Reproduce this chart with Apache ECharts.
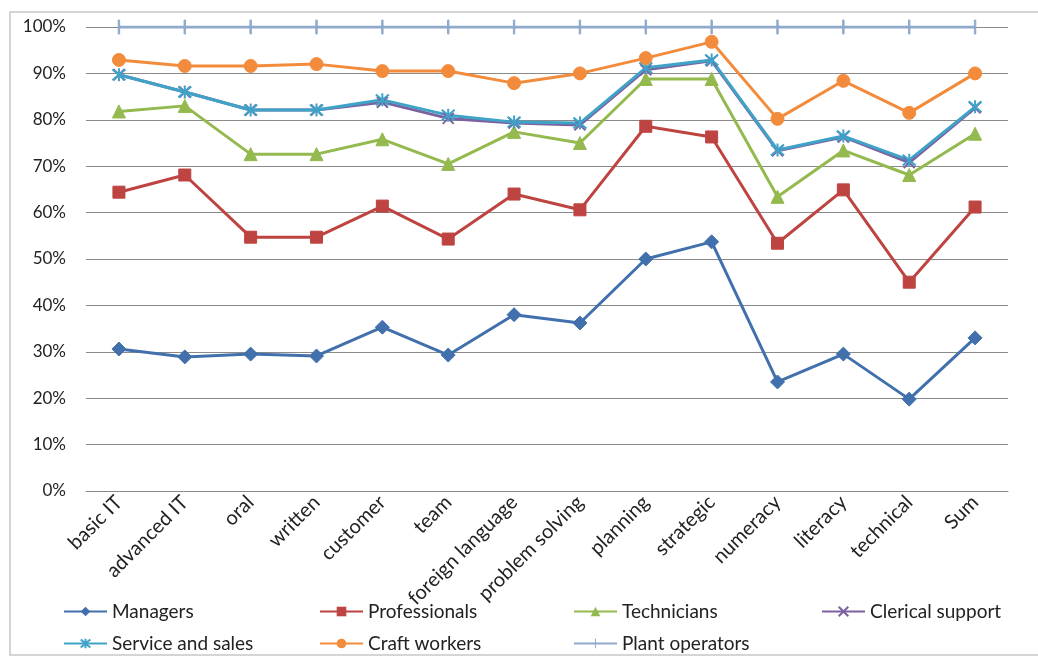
<!DOCTYPE html>
<html>
<head>
<meta charset="utf-8">
<script src="https://cdn.jsdelivr.net/npm/echarts@6/dist/echarts.min.js"></script>
<style>
  html, body { margin: 0; padding: 0; background: #fff; }
  #chart { width: 1038px; height: 662px; }
</style>
</head>
<body>
<div id="chart"></div>
<script>
const categories = ['basic IT', 'advanced IT', 'oral', 'written', 'customer', 'team', 'foreign language',
  'problem solving', 'planning', 'strategic', 'numeracy', 'literacy', 'technical', 'Sum']

const managers = [30.6, 28.9, 29.5, 29.1, 35.3, 29.3, 38.0, 36.2, 50.0, 53.7, 23.5, 29.5, 19.8, 33.0]
const professionals = [64.4, 68.1, 54.7, 54.7, 61.4, 54.3, 64.0, 60.6, 78.6, 76.3, 53.4, 64.9, 45.0, 61.2]
const technicians = [81.8, 83.0, 72.6, 72.6, 75.8, 70.5, 77.4, 75.0, 88.8, 88.8, 63.4, 73.4, 68.1, 77.0]
const clericalSupport = [89.7, 86.0, 82.1, 82.1, 83.8, 80.3, 79.3, 78.9, 90.8, 92.7, 73.3, 76.3, 70.8, 82.6]
const serviceAndSales = [89.7, 86.0, 82.1, 82.1, 84.3, 81.0, 79.5, 79.3, 91.2, 92.9, 73.5, 76.5, 71.3, 82.8]
const craftWorkers = [92.9, 91.6, 91.6, 92.0, 90.5, 90.5, 87.9, 90.0, 93.3, 96.8, 80.2, 88.4, 81.5, 90.0]
const plantOperators = [100, 100, 100, 100, 100, 100, 100, 100, 100, 100, 100, 100, 100, 100]

const yTicks = [0, 10, 20, 30, 40, 50, 60, 70, 80, 90, 100]

const fontFamily = 'Lato, "Open Sans", sans-serif'

// marker shapes (stroked paths)
const asterisk = 'path://M0,0L10,10M10,0L0,10M5,-1L5,11'
const cross = 'path://M0,0L10,10M10,0L0,10'
// thin vertical bar inside a square box (moveTo corners keep the box square)
const vbar = 'path://M0,0M14,14M6.3,0L7.7,0L7.7,14L6.3,14Z'

function lineSeries(name, data, color, symbol, symbolSize, strokeSymbol) {
  return {
    name,
    type: 'line',
    data,
    symbol,
    symbolSize,
    lineStyle: { color, width: 3 },
    itemStyle: strokeSymbol
      ? { color: 'transparent', borderColor: color, borderWidth: 2 }
      : { color, borderColor: color },
    color
  }
}

const seriesList = [
  lineSeries('Managers', managers, '#4170AC', 'diamond', 14),
  lineSeries('Professionals', professionals, '#BE4441', 'rect', 12),
  lineSeries('Technicians', technicians, '#94B94E', 'triangle', 13),
  lineSeries('Clerical support', clericalSupport, '#7D60A0', cross, 11, true),
  lineSeries('Service and sales', serviceAndSales, '#3FA3C8', asterisk, 13, true),
  lineSeries('Craft workers', craftWorkers, '#F28C3C', 'circle', 13),
  lineSeries('Plant operators', plantOperators, '#8FAACB', vbar, 14)
]

// legend placement: [name, left, top]
const legendPos = [
  ['Managers', 58, 597],
  ['Professionals', 314, 597],
  ['Technicians', 568, 597],
  ['Clerical support', 816, 597],
  ['Service and sales', 58, 629],
  ['Craft workers', 314, 629],
  ['Plant operators', 568, 629]
]

const chartInstance = echarts.init(document.getElementById('chart'))
chartInstance.setOption({
  animation: false,
  textStyle: { fontFamily },
  graphic: [{
    type: 'rect',
    shape: { x: 10, y: 12, width: 1040, height: 643 },
    style: { fill: 'none', stroke: '#c8c8c8', lineWidth: 1.5 },
    silent: true,
    z: -1
  }],
  grid: { left: 86, right: 30, top: 27, bottom: 171 },
  legend: legendPos.map(([name, left, top]) => ({
    data: [name],
    left,
    top,
    itemWidth: 43,
    itemHeight: 12,
    itemGap: 2,
    selectedMode: false,
    textStyle: { fontSize: 19, color: '#222', fontFamily }
  })),
  xAxis: {
    type: 'category',
    data: categories,
    boundaryGap: true,
    axisTick: { show: false },
    axisLine: { lineStyle: { color: '#888', width: 1 } },
    axisLabel: { rotate: 45, fontSize: 20, color: '#222', margin: 8, interval: 0 }
  },
  yAxis: {
    type: 'value',
    min: 0,
    max: 100,
    interval: 10,
    axisLine: { show: false },
    axisTick: { show: false },
    axisLabel: {
      fontSize: 17,
      color: '#222',
      margin: 20,
      formatter: (v) => (yTicks.includes(v) ? v + '%' : '')
    },
    splitLine: { lineStyle: { color: '#8a8a8a', width: 1 } }
  },
  series: seriesList
})
</script>
</body>
</html>
